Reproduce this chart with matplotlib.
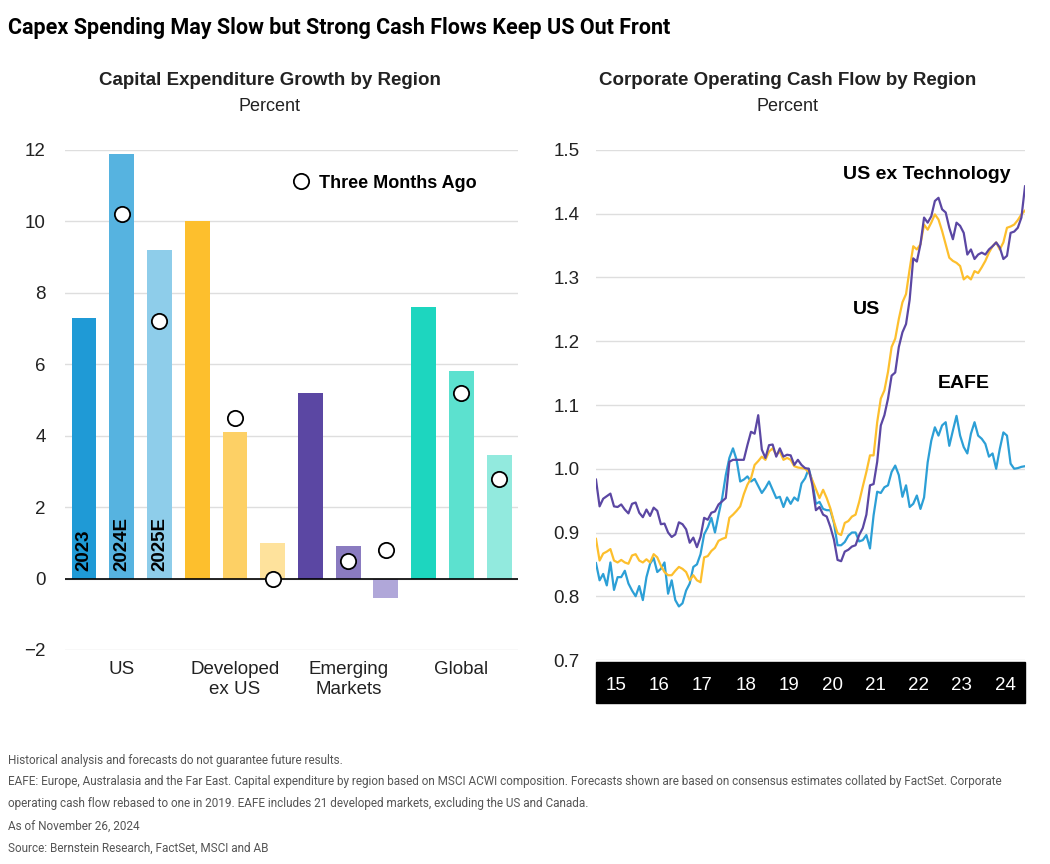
import matplotlib.pyplot as plt
import numpy as np
from matplotlib.patches import Rectangle
from matplotlib.lines import Line2D

# ---- left panel data: capex growth (%) ----
regions = ['US', 'Developed\nex US', 'Emerging\nMarkets', 'Global']
years = ['2023', '2024E', '2025E']
capex_growth = [[7.3, 11.9, 9.2],
                [10.0, 4.1, 1.0],
                [5.2, 0.9, -0.55],
                [7.6, 5.8, 3.45]]
three_months_ago = [[None, 10.2, 7.2],
                    [None, 4.5, 0.0],
                    [None, 0.5, 0.8],
                    [None, 5.2, 2.8]]
bar_colors = [['#1f9ad6', '#56b3e0', '#8ecdea'],
              ['#fdbf2d', '#fdd065', '#fee29c'],
              ['#5b47a3', '#8a7bc0', '#b0a7d9'],
              ['#1dd6bf', '#5ce1cf', '#92eade']]

# ---- right panel data: operating cash flow, rebased (monthly, Jan 2015 - Dec 2024) ----
year_labels = ['15', '16', '17', '18', '19', '20', '21', '22', '23', '24']
us_ex_tech = [
    0.983, 0.941, 0.953, 0.957, 0.961, 0.941, 0.940, 0.944, 0.936, 0.930, 0.945, 0.947,
    0.931, 0.924, 0.936, 0.926, 0.939, 0.934, 0.913, 0.914, 0.900, 0.893, 0.897, 0.916,
    0.913, 0.905, 0.884, 0.892, 0.877, 0.893, 0.923, 0.920, 0.931, 0.933, 0.944, 0.949,
    0.954, 1.011, 1.014, 1.014, 1.014, 1.014, 1.037, 1.058, 1.055, 1.084, 1.030, 1.017,
    1.037, 1.038, 1.019, 1.032, 1.019, 1.022, 1.021, 1.006, 1.014, 1.006, 1.001, 1.000,
    0.975, 0.935, 0.940, 0.928, 0.925, 0.909, 0.889, 0.857, 0.855, 0.870, 0.873, 0.878,
    0.880, 0.896, 0.907, 0.928, 0.974, 0.976, 1.011, 1.068, 1.084, 1.110, 1.146, 1.151,
    1.191, 1.214, 1.227, 1.265, 1.330, 1.325, 1.352, 1.394, 1.386, 1.396, 1.420, 1.425,
    1.407, 1.402, 1.378, 1.360, 1.386, 1.381, 1.370, 1.336, 1.344, 1.329, 1.336, 1.339,
    1.336, 1.344, 1.349, 1.355, 1.347, 1.329, 1.334, 1.370, 1.372, 1.378, 1.394, 1.443]
us = [
    0.890, 0.856, 0.867, 0.870, 0.874, 0.856, 0.853, 0.857, 0.853, 0.851, 0.864, 0.866,
    0.856, 0.853, 0.858, 0.853, 0.866, 0.861, 0.848, 0.838, 0.833, 0.833, 0.840, 0.846,
    0.843, 0.838, 0.825, 0.833, 0.825, 0.822, 0.861, 0.863, 0.871, 0.876, 0.887, 0.890,
    0.892, 0.923, 0.928, 0.934, 0.941, 0.960, 0.975, 0.985, 1.006, 1.012, 1.019, 1.014,
    1.027, 1.032, 1.022, 1.027, 1.014, 1.017, 1.014, 1.004, 1.002, 1.001, 1.000, 0.995,
    0.982, 0.968, 0.954, 0.967, 0.954, 0.938, 0.917, 0.899, 0.896, 0.915, 0.918, 0.925,
    0.928, 0.948, 0.972, 0.995, 1.021, 1.021, 1.073, 1.110, 1.123, 1.152, 1.191, 1.204,
    1.235, 1.261, 1.274, 1.313, 1.349, 1.344, 1.352, 1.383, 1.375, 1.386, 1.399, 1.391,
    1.373, 1.352, 1.331, 1.326, 1.323, 1.318, 1.297, 1.302, 1.297, 1.310, 1.307, 1.316,
    1.326, 1.339, 1.349, 1.355, 1.344, 1.355, 1.378, 1.380, 1.383, 1.390, 1.399, 1.405]
eafe = [
    0.852, 0.825, 0.835, 0.817, 0.853, 0.810, 0.830, 0.830, 0.840, 0.820, 0.809, 0.800,
    0.816, 0.794, 0.830, 0.851, 0.860, 0.838, 0.843, 0.853, 0.804, 0.825, 0.794, 0.784,
    0.789, 0.809, 0.820, 0.846, 0.850, 0.866, 0.897, 0.908, 0.923, 0.900, 0.928, 0.954,
    0.990, 1.017, 1.032, 1.014, 0.980, 0.983, 0.988, 0.980, 0.984, 0.973, 0.962, 0.970,
    0.980, 0.967, 0.954, 0.956, 0.940, 0.955, 0.945, 0.955, 0.950, 0.977, 0.985, 1.000,
    0.980, 0.945, 0.948, 0.937, 0.935, 0.935, 0.915, 0.880, 0.880, 0.885, 0.895, 0.900,
    0.900, 0.886, 0.888, 0.896, 0.875, 0.927, 0.964, 0.962, 0.971, 0.974, 0.995, 1.005,
    0.990, 0.956, 0.974, 0.940, 0.945, 0.958, 0.937, 0.955, 1.010, 1.044, 1.065, 1.052,
    1.068, 1.073, 1.036, 1.060, 1.083, 1.052, 1.034, 1.024, 1.055, 1.073, 1.052, 1.047,
    1.039, 1.019, 1.024, 1.000, 1.031, 1.057, 1.052, 1.008, 1.000, 1.001, 1.003, 1.004]

footnotes = [
    'Historical analysis and forecasts do not guarantee future results.',
    'EAFE: Europe, Australasia and the Far East. Capital expenditure by region based on MSCI ACWI composition. '
    'Forecasts shown are based on consensus estimates collated by FactSet. Corporate',
    'operating cash flow rebased to one in 2019. EAFE includes 21 developed markets, excluding the US and Canada.',
    'As of November 26, 2024',
    'Source: Bernstein Research, FactSet, MSCI and AB',
]

plt.rcParams['font.family'] = ['Liberation Sans', 'DejaVu Sans']
TXT = '#222222'
GRID = '#dedede'

fig = plt.figure(figsize=(10.5, 8.64), dpi=100)
fig.text(0.008, 0.968, 'Capex Spending May Slow but Strong Cash Flows Keep US Out Front',
         fontsize=15.5, fontweight='bold', family='Roboto', color='black', va='center')

# ================= left: capex bars =================
ax1 = fig.add_axes([0.062, 0.2477, 0.4314, 0.5787])
for g, region in enumerate(regions):
    for j in range(len(years)):
        pos = g * 3 + j
        ax1.bar(pos, capex_growth[g][j], width=0.66, color=bar_colors[g][j], zorder=2)
        if three_months_ago[g][j] is not None:
            ax1.plot(pos, three_months_ago[g][j], 'o', ms=11, mfc='white', mec='black',
                     mew=1.3, zorder=4, clip_on=False)
        if g == 0:
            ax1.text(pos, 0.2, years[j], rotation=90, ha='center', va='bottom',
                     fontsize=13.5, fontweight='bold', color='black', zorder=5)

ax1.set_xlim(-0.5, 11.5)
ax1.set_ylim(-2, 12)
ax1.set_yticks(range(-2, 13, 2))
ax1.set_yticklabels(['\u22122', '0', '2', '4', '6', '8', '10', '12'])
ax1.set_xticks([g * 3 + 1 for g in range(len(regions))])
ax1.set_xticklabels(regions, linespacing=1.25)
ax1.tick_params(axis='both', length=0, labelsize=13.5, labelcolor=TXT)
ax1.tick_params(axis='y', pad=14)
ax1.tick_params(axis='x', pad=8)
ax1.grid(axis='y', color=GRID, lw=1, zorder=0)
ax1.axhline(0, color='black', lw=1.2, zorder=3)
for s in ax1.spines.values():
    s.set_visible(False)

leg_handle = Line2D([], [], marker='o', ls='none', ms=11, mfc='white', mec='black', mew=1.3)
ax1.legend([leg_handle], ['Three Months Ago'], loc='upper left', bbox_to_anchor=(0.465, 0.965),
           frameon=False, handletextpad=0.0, borderaxespad=0,
           prop={'weight': 'bold', 'size': 13})

fig.text(0.257, 0.9065, 'Capital Expenditure Growth by Region', ha='center', va='center',
         fontsize=13.5, fontweight='bold', color=TXT)
fig.text(0.257, 0.8765, 'Percent', ha='center', va='center', fontsize=13, color=TXT)

# ================= right: cash flow lines =================
ax2 = fig.add_axes([0.5676, 0.2361, 0.4086, 0.5903])
months = np.arange(len(us))
ax2.plot(months, eafe, color='#2c9fd6', lw=1.6, zorder=3)
ax2.plot(months, us, color='#fdbf2d', lw=1.6, zorder=3)
ax2.plot(months, us_ex_tech, color='#5b47a3', lw=1.6, zorder=4)

ax2.set_xlim(0, len(us) - 1)
ax2.set_ylim(0.7, 1.5)
ax2.set_yticks(np.arange(0.7, 1.51, 0.1))
ax2.set_yticklabels([f'{v:.1f}' for v in np.arange(0.7, 1.51, 0.1)])
ax2.set_xticks([12 * k + 5.5 for k in range(len(year_labels))])
ax2.set_xticklabels(year_labels)
ax2.tick_params(axis='y', length=0, labelsize=13.5, labelcolor=TXT, pad=12)
ax2.tick_params(axis='x', length=0, labelsize=13.5, labelcolor='white', pad=12)
ax2.grid(axis='y', color=GRID, lw=1, zorder=0)
for s in ax2.spines.values():
    s.set_visible(False)
ax2.add_patch(Rectangle((0, -0.084), 1, 0.08, transform=ax2.transAxes, color='black',
                        clip_on=False, zorder=1))

ax2.text(0.77, 1.462, 'US ex Technology', transform=ax2.get_yaxis_transform(),
         ha='center', va='center', fontsize=14, fontweight='bold', color='black')
ax2.annotate('US', (75, 1.25), ha='center', va='center', fontsize=14,
             fontweight='bold', color='black')
ax2.annotate('EAFE', (102, 1.133), ha='center', va='center', fontsize=14,
             fontweight='bold', color='black')

fig.text(0.750, 0.9065, 'Corporate Operating Cash Flow by Region', ha='center', va='center',
         fontsize=13.5, fontweight='bold', color=TXT)
fig.text(0.750, 0.8765, 'Percent', ha='center', va='center', fontsize=13, color=TXT)

# ================= footnotes =================
foot_y = [0.120, 0.0955, 0.070, 0.0435, 0.018]
for y, line in zip(foot_y, footnotes):
    fig.text(0.008, y, line, fontsize=8.45, color='#555555', family='Roboto', va='center')

fig.savefig('out.png', dpi=100)
